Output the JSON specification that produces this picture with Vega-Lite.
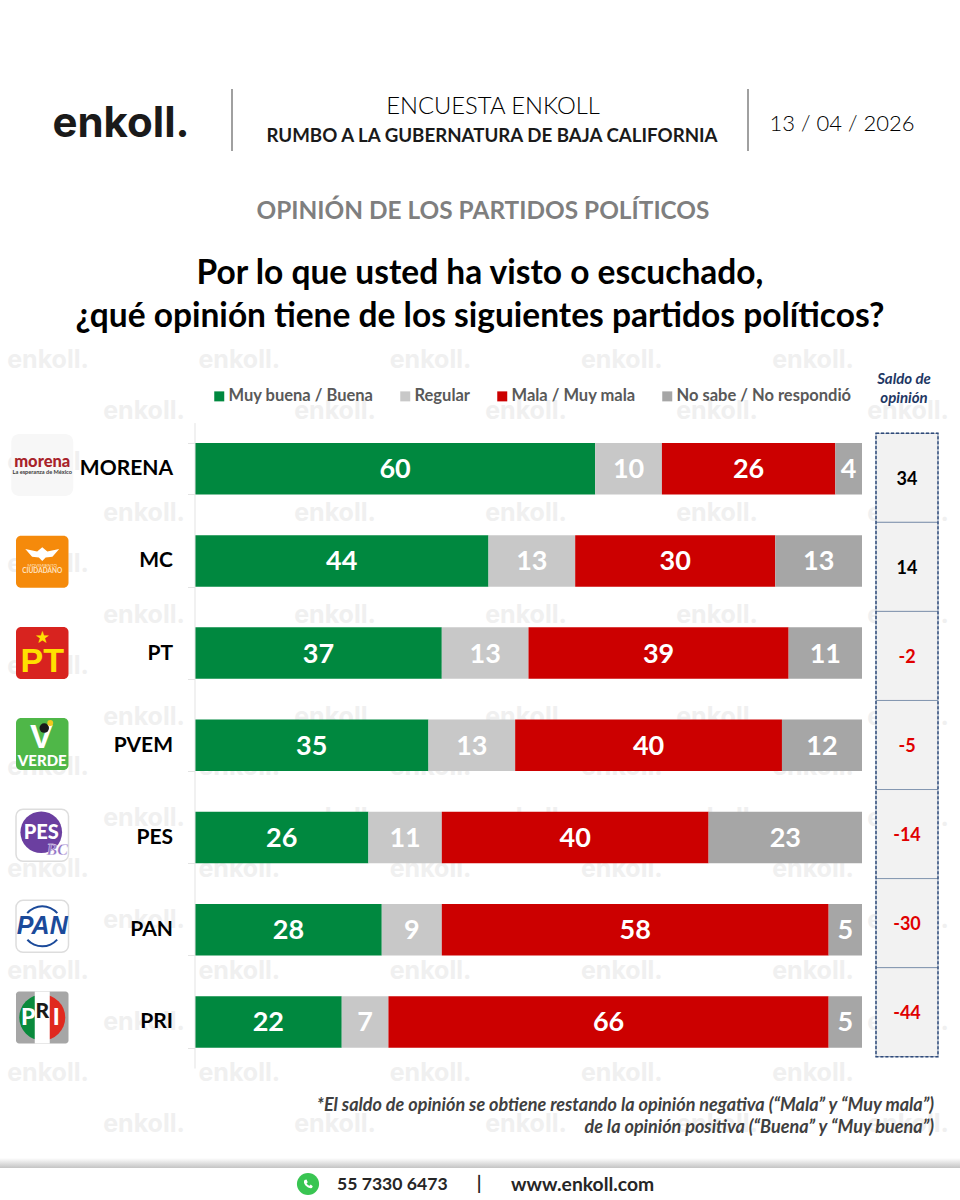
{
  "$schema": "https://vega.github.io/schema/vega-lite/v6.json",
  "width": 960,
  "height": 1200,
  "padding": 0,
  "autosize": {"type": "none"},
  "background": "white",
  "config": {
    "view": {"stroke": null},
    "text": {"font": "Lato"},
    "legend": {"labelFont": "Lato"},
    "scale": {"pointPadding": 0}
  },
  "datasets": {
    "opinion": [
      {"party": "MORENA", "opinion": "Muy buena / Buena", "orden": 1, "value": 60},
      {"party": "MORENA", "opinion": "Regular", "orden": 2, "value": 10},
      {"party": "MORENA", "opinion": "Mala / Muy mala", "orden": 3, "value": 26},
      {"party": "MORENA", "opinion": "No sabe / No respondió", "orden": 4, "value": 4},
      {"party": "MC", "opinion": "Muy buena / Buena", "orden": 1, "value": 44},
      {"party": "MC", "opinion": "Regular", "orden": 2, "value": 13},
      {"party": "MC", "opinion": "Mala / Muy mala", "orden": 3, "value": 30},
      {"party": "MC", "opinion": "No sabe / No respondió", "orden": 4, "value": 13},
      {"party": "PT", "opinion": "Muy buena / Buena", "orden": 1, "value": 37},
      {"party": "PT", "opinion": "Regular", "orden": 2, "value": 13},
      {"party": "PT", "opinion": "Mala / Muy mala", "orden": 3, "value": 39},
      {"party": "PT", "opinion": "No sabe / No respondió", "orden": 4, "value": 11},
      {"party": "PVEM", "opinion": "Muy buena / Buena", "orden": 1, "value": 35},
      {"party": "PVEM", "opinion": "Regular", "orden": 2, "value": 13},
      {"party": "PVEM", "opinion": "Mala / Muy mala", "orden": 3, "value": 40},
      {"party": "PVEM", "opinion": "No sabe / No respondió", "orden": 4, "value": 12},
      {"party": "PES", "opinion": "Muy buena / Buena", "orden": 1, "value": 26},
      {"party": "PES", "opinion": "Regular", "orden": 2, "value": 11},
      {"party": "PES", "opinion": "Mala / Muy mala", "orden": 3, "value": 40},
      {"party": "PES", "opinion": "No sabe / No respondió", "orden": 4, "value": 23},
      {"party": "PAN", "opinion": "Muy buena / Buena", "orden": 1, "value": 28},
      {"party": "PAN", "opinion": "Regular", "orden": 2, "value": 9},
      {"party": "PAN", "opinion": "Mala / Muy mala", "orden": 3, "value": 58},
      {"party": "PAN", "opinion": "No sabe / No respondió", "orden": 4, "value": 5},
      {"party": "PRI", "opinion": "Muy buena / Buena", "orden": 1, "value": 22},
      {"party": "PRI", "opinion": "Regular", "orden": 2, "value": 7},
      {"party": "PRI", "opinion": "Mala / Muy mala", "orden": 3, "value": 66},
      {"party": "PRI", "opinion": "No sabe / No respondió", "orden": 4, "value": 5}
    ],
    "saldo": [
      {"party": "MORENA", "saldo": 34},
      {"party": "MC", "saldo": 14},
      {"party": "PT", "saldo": -2},
      {"party": "PVEM", "saldo": -5},
      {"party": "PES", "saldo": -14},
      {"party": "PAN", "saldo": -30},
      {"party": "PRI", "saldo": -44}
    ],
    "marca": [
      {"col": "c1", "fila": "f1"}, {"col": "c2", "fila": "f1"}, {"col": "c3", "fila": "f1"}, {"col": "c4", "fila": "f1"}, {"col": "c5", "fila": "f1"},
      {"col": "c1", "fila": "f2"}, {"col": "c2", "fila": "f2"}, {"col": "c3", "fila": "f2"}, {"col": "c4", "fila": "f2"}, {"col": "c5", "fila": "f2"},
      {"col": "c1", "fila": "f3"}, {"col": "c2", "fila": "f3"}, {"col": "c3", "fila": "f3"}, {"col": "c4", "fila": "f3"}, {"col": "c5", "fila": "f3"},
      {"col": "c1", "fila": "f4"}, {"col": "c2", "fila": "f4"}, {"col": "c3", "fila": "f4"}, {"col": "c4", "fila": "f4"}, {"col": "c5", "fila": "f4"},
      {"col": "c1", "fila": "f5"}, {"col": "c2", "fila": "f5"}, {"col": "c3", "fila": "f5"}, {"col": "c4", "fila": "f5"}, {"col": "c5", "fila": "f5"},
      {"col": "c1", "fila": "f6"}, {"col": "c2", "fila": "f6"}, {"col": "c3", "fila": "f6"}, {"col": "c4", "fila": "f6"}, {"col": "c5", "fila": "f6"},
      {"col": "c1", "fila": "f7"}, {"col": "c2", "fila": "f7"}, {"col": "c3", "fila": "f7"}, {"col": "c4", "fila": "f7"}, {"col": "c5", "fila": "f7"},
      {"col": "c1", "fila": "f8"}, {"col": "c2", "fila": "f8"}, {"col": "c3", "fila": "f8"}, {"col": "c4", "fila": "f8"}, {"col": "c5", "fila": "f8"}
    ]
  },
  "resolve": {
    "scale": {"x": "independent", "y": "independent", "color": "independent"},
    "axis": {"x": "independent", "y": "independent"}
  },
  "layer": [
    {
      "data": {"name": "marca"},
      "mark": {"type": "text", "text": "enkoll.", "font": "Inter", "fontWeight": "bold", "fontSize": 25, "color": "#f0f0f0"},
      "encoding": {
        "x": {"field": "col", "type": "nominal", "axis": null, "scale": {"type": "point", "range": [48, 813], "padding": 0}},
        "y": {"field": "fila", "type": "nominal", "axis": null, "scale": {"type": "point", "range": [360, 1073], "padding": 0}}
      }
    },
    {
      "data": {"name": "marca"},
      "mark": {"type": "text", "text": "enkoll.", "font": "Inter", "fontWeight": "bold", "fontSize": 25, "color": "#f0f0f0"},
      "encoding": {
        "x": {"field": "col", "type": "nominal", "axis": null, "scale": {"type": "point", "range": [144, 908], "padding": 0}},
        "y": {"field": "fila", "type": "nominal", "axis": null, "scale": {"type": "point", "range": [411, 1124], "padding": 0}}
      }
    },
    {
      "data": {"values": [{"t": "enkoll."}]},
      "mark": {"type": "text", "font": "Inter", "fontWeight": "bold", "fontSize": 42, "color": "#1a1a1a"},
      "encoding": {
        "text": {"field": "t"},
        "x": {"field": "t", "type": "nominal", "axis": null, "scale": {"type": "point", "range": [121, 121]}},
        "y": {"field": "t", "type": "nominal", "axis": null, "scale": {"type": "point", "range": [124, 124]}}
      }
    },
    {
      "data": {"values": [{"s": "a"}, {"s": "b"}]},
      "mark": {"type": "rect", "width": 1.5, "color": "#808080"},
      "encoding": {
        "x": {"field": "s", "type": "nominal", "axis": null, "scale": {"type": "point", "range": [232, 748], "padding": 0}},
        "y": {"datum": "sep", "type": "nominal", "axis": null, "scale": {"type": "band", "range": [89, 151], "paddingInner": 0, "paddingOuter": 0}}
      }
    },
    {
      "data": {"values": [{"t": "ENCUESTA ENKOLL"}]},
      "mark": {"type": "text", "fontSize": 23.8, "fontWeight": 300, "color": "#000000"},
      "encoding": {
        "text": {"field": "t"},
        "x": {"field": "t", "type": "nominal", "axis": null, "scale": {"type": "point", "range": [493, 493]}},
        "y": {"field": "t", "type": "nominal", "axis": null, "scale": {"type": "point", "range": [107, 107]}}
      }
    },
    {
      "data": {"values": [{"t": "RUMBO A LA GUBERNATURA DE BAJA CALIFORNIA"}]},
      "mark": {"type": "text", "fontSize": 18.7, "fontWeight": "bold", "color": "#1a1a1a"},
      "encoding": {
        "text": {"field": "t"},
        "x": {"field": "t", "type": "nominal", "axis": null, "scale": {"type": "point", "range": [492, 492]}},
        "y": {"field": "t", "type": "nominal", "axis": null, "scale": {"type": "point", "range": [136, 136]}}
      }
    },
    {
      "data": {"values": [{"t": "13 / 04 / 2026"}]},
      "mark": {"type": "text", "fontSize": 22, "fontWeight": 300, "color": "#000000"},
      "encoding": {
        "text": {"field": "t"},
        "x": {"field": "t", "type": "nominal", "axis": null, "scale": {"type": "point", "range": [842, 842]}},
        "y": {"field": "t", "type": "nominal", "axis": null, "scale": {"type": "point", "range": [124, 124]}}
      }
    },
    {
      "data": {"values": [{"t": "OPINIÓN DE LOS PARTIDOS POLÍTICOS"}]},
      "mark": {"type": "text", "fontSize": 24.4, "fontWeight": "bold", "color": "#7f7f7f"},
      "encoding": {
        "text": {"field": "t"},
        "x": {"field": "t", "type": "nominal", "axis": null, "scale": {"type": "point", "range": [483, 483]}},
        "y": {"field": "t", "type": "nominal", "axis": null, "scale": {"type": "point", "range": [212, 212]}}
      }
    },
    {
      "data": {"values": [{"t": "Por lo que usted ha visto o escuchado,"}, {"t": "¿qué opinión tiene de los siguientes partidos políticos?"}]},
      "mark": {"type": "text", "fontSize": 33.5, "fontWeight": "bold", "color": "black"},
      "encoding": {
        "text": {"field": "t"},
        "x": {"field": "t", "type": "nominal", "axis": null, "scale": {"type": "point", "range": [480, 480]}},
        "y": {"field": "t", "type": "nominal", "axis": null, "sort": null, "scale": {"type": "point", "range": [274, 317], "padding": 0}}
      }
    },
    {
      "data": {"values": [{"t": "Saldo de"}, {"t": "opinión"}]},
      "mark": {"type": "text", "fontSize": 15, "fontWeight": "bold", "fontStyle": "italic", "color": "#1f3864"},
      "encoding": {
        "text": {"field": "t"},
        "x": {"field": "t", "type": "nominal", "axis": null, "scale": {"type": "point", "range": [904, 904]}},
        "y": {"field": "t", "type": "nominal", "axis": null, "sort": null, "scale": {"type": "point", "range": [379, 398], "padding": 0}}
      }
    },
    {
      "data": {"name": "opinion"},
      "encoding": {
        "y": {
          "field": "party",
          "type": "nominal",
          "title": null,
          "scale": {
            "domain": ["MORENA", "MC", "PT", "PVEM", "PES", "PAN", "PRI"],
            "range": [422.6, 1068],
            "paddingInner": 0.4415,
            "paddingOuter": 0.2207
          },
          "axis": {
            "offset": -194.5,
            "zindex": 1,
            "domainColor": "#e3e3e3",
            "tickColor": "#e3e3e3",
            "tickBand": "extent",
            "tickSize": 7,
            "labelPadding": 15,
            "labelFont": "Lato",
            "labelFontWeight": "bold",
            "labelFontSize": 21,
            "labelColor": "black",
            "encode": {"labels": {"update": {"dx": {"signal": "datum.label == 'MC' ? -5 : datum.label == 'PAN' ? -6 : 0"}}}}
          }
        },
        "x": {
          "field": "value",
          "type": "quantitative",
          "stack": "zero",
          "axis": null,
          "scale": {"domain": [0, 100], "range": [195, 862], "nice": false}
        },
        "order": {"field": "orden"}
      },
      "layer": [
        {
          "mark": {"type": "bar"},
          "encoding": {
            "color": {
              "field": "opinion",
              "type": "nominal",
              "scale": {
                "domain": ["Muy buena / Buena", "Regular", "Mala / Muy mala", "No sabe / No respondió"],
                "range": ["#00883f", "#c8c8c8", "#cc0000", "#a6a6a6"]
              },
              "legend": {
                "title": null,
                "orient": "none",
                "legendX": 211,
                "legendY": 388,
                "direction": "horizontal",
                "columns": 4,
                "columnPadding": 23,
                "symbolType": "square",
                "symbolSize": 100,
                "symbolStrokeWidth": 0,
                "symbolOpacity": 1,
                "labelOffset": 1,
                "labelLimit": 300,
                "labelFontSize": 16.5,
                "labelFontWeight": "bold",
                "labelColor": "#595959"
              }
            }
          }
        },
        {
          "mark": {"type": "text", "fontSize": 27, "fontWeight": "bold", "color": "white", "dy": 1.5},
          "encoding": {
            "x": {"field": "value", "type": "quantitative", "stack": "zero", "bandPosition": 0.5},
            "text": {"field": "value", "type": "quantitative"}
          }
        }
      ]
    },
    {
      "data": {"name": "saldo"},
      "encoding": {
        "x": {"datum": "saldo", "type": "nominal", "axis": null, "scale": {"type": "band", "range": [876, 938], "paddingInner": 0, "paddingOuter": 0}},
        "y": {
          "field": "party",
          "type": "nominal",
          "axis": null,
          "scale": {
            "domain": ["MORENA", "MC", "PT", "PVEM", "PES", "PAN", "PRI"],
            "range": [433.3, 1056.7],
            "paddingInner": 0,
            "paddingOuter": 0
          }
        }
      },
      "layer": [
        {"mark": {"type": "rect", "fill": "#f2f2f2", "stroke": "#8497b0", "strokeWidth": 1}},
        {
          "mark": {"type": "text", "fontSize": 18, "fontWeight": "bold", "dy": 2},
          "encoding": {
            "text": {"field": "saldo", "type": "nominal"},
            "color": {"condition": {"test": "datum.saldo < 0", "value": "#e00000"}, "value": "black"}
          }
        }
      ]
    },
    {
      "data": {"values": [{"caja": "saldo"}]},
      "mark": {"type": "rect", "fill": null, "stroke": "#2f4a7a", "strokeWidth": 1.4, "strokeDash": [3, 2]},
      "encoding": {
        "x": {"field": "caja", "type": "nominal", "axis": null, "scale": {"type": "band", "range": [876, 938], "paddingInner": 0, "paddingOuter": 0}},
        "y": {"field": "caja", "type": "nominal", "axis": null, "scale": {"type": "band", "range": [433.3, 1056.7], "paddingInner": 0, "paddingOuter": 0}}
      }
    },
    {
      "encoding": {
        "x": {"datum": "logo", "type": "nominal", "axis": null, "scale": {"type": "band", "range": [16, 68.5], "paddingInner": 0, "paddingOuter": 0}},
        "y": {
          "field": "party",
          "type": "nominal",
          "axis": null,
          "scale": {
            "domain": ["MORENA", "MC", "PT", "PVEM", "PES", "PAN", "PRI"],
            "range": [425.09, 1063.07],
            "paddingInner": 0.4295,
            "paddingOuter": 0.2147
          }
        }
      },
      "layer": [
        {
          "data": {"values": [{"party": "MORENA"}]},
          "mark": {"type": "rect", "width": 62, "height": 62, "yOffset": -5.7, "cornerRadius": 8, "fill": "#f7f7f7"}
        },
        {
          "data": {"values": [{"party": "MC"}]},
          "mark": {"type": "rect", "cornerRadius": 5, "fill": "#f58a0b"}
        },
        {
          "data": {"values": [{"party": "PT"}]},
          "mark": {"type": "rect", "cornerRadius": 5, "fill": "#d8231f"}
        },
        {
          "data": {"values": [{"party": "PVEM"}]},
          "mark": {"type": "rect", "cornerRadius": 5, "fill": "#4fb748"}
        },
        {
          "data": {"values": [{"party": "PES"}, {"party": "PAN"}]},
          "mark": {"type": "rect", "cornerRadius": 7, "fill": "white", "stroke": "#dddddd", "strokeWidth": 1.5}
        },
        {
          "data": {"values": [{"party": "PRI"}]},
          "mark": {"type": "rect", "cornerRadius": 3, "fill": "#a6a6a6"}
        },
        {
          "data": {"values": [{"party": "MORENA", "t": "morena"}]},
          "mark": {"type": "text", "dy": -9, "fontSize": 16.5, "fontWeight": 900, "color": "#a8232a"},
          "encoding": {"text": {"field": "t"}}
        },
        {
          "data": {"values": [{"party": "MORENA", "t": "La esperanza de México"}]},
          "mark": {"type": "text", "dy": 1, "fontSize": 5.6, "fontWeight": "bold", "color": "#3a3a3a"},
          "encoding": {"text": {"field": "t"}}
        },
        {
          "data": {"values": [{"party": "MC"}]},
          "mark": {"type": "point", "filled": true, "opacity": 1, "color": "white", "size": 1150, "yOffset": -6, "shape": "M-1,-0.4 L-0.3,-0.25 L0,-0.5 L0.3,-0.25 L1,-0.4 L0.6,0.05 L0.2,0.1 L0,0.3 L-0.2,0.1 L-0.6,0.05 Z"}
        },
        {
          "data": {"values": [{"party": "MC", "t": "MOVIMIENTO"}]},
          "mark": {"type": "text", "dy": 4, "fontSize": 4.5, "color": "#ffe3c2"},
          "encoding": {"text": {"field": "t"}}
        },
        {
          "data": {"values": [{"party": "MC", "t": "CIUDADANO"}]},
          "mark": {"type": "text", "dy": 9, "fontSize": 6.5, "fontWeight": "bold", "color": "#ffe3c2"},
          "encoding": {"text": {"field": "t"}}
        },
        {
          "data": {"values": [{"party": "PT", "t": "★"}]},
          "mark": {"type": "text", "dy": -15, "font": "DejaVu Sans", "fontSize": 17, "color": "#ffe000"},
          "encoding": {"text": {"field": "t"}}
        },
        {
          "data": {"values": [{"party": "PT", "t": "PT"}]},
          "mark": {"type": "text", "dy": 9, "font": "Liberation Sans", "fontSize": 34, "fontWeight": "bold", "color": "#ffe000"},
          "encoding": {"text": {"field": "t"}}
        },
        {
          "data": {"values": [{"party": "PVEM", "t": "V"}]},
          "mark": {"type": "text", "dy": -6, "dx": -1, "font": "Liberation Sans", "fontSize": 34, "fontWeight": "bold", "color": "white"},
          "encoding": {"text": {"field": "t"}}
        },
        {
          "data": {"values": [{"party": "PVEM"}]},
          "mark": {"type": "point", "filled": true, "opacity": 1, "color": "#1a1a1a", "size": 90, "yOffset": -16, "xOffset": 2}
        },
        {
          "data": {"values": [{"party": "PVEM"}]},
          "mark": {"type": "point", "filled": true, "opacity": 1, "color": "#f2c81e", "size": 35, "yOffset": -21, "xOffset": 8}
        },
        {
          "data": {"values": [{"party": "PVEM", "t": "VERDE"}]},
          "mark": {"type": "text", "dy": 17, "fontSize": 15, "fontWeight": 900, "color": "white"},
          "encoding": {"text": {"field": "t"}}
        },
        {
          "data": {"values": [{"party": "PES"}]},
          "mark": {"type": "point", "filled": true, "opacity": 1, "color": "#6b3fa0", "size": 1735, "shape": "circle", "xOffset": -1, "yOffset": -3}
        },
        {
          "data": {"values": [{"party": "PES", "t": "PES"}]},
          "mark": {"type": "text", "dy": -2, "dx": -1, "fontSize": 20, "fontWeight": 900, "color": "white"},
          "encoding": {"text": {"field": "t"}}
        },
        {
          "data": {"values": [{"party": "PES", "t": "BC"}]},
          "mark": {"type": "text", "dy": 15, "dx": 15, "font": "Liberation Serif", "fontStyle": "italic", "fontWeight": "bold", "fontSize": 16, "color": "#8f6fc4", "stroke": "white", "strokeWidth": 0.3},
          "encoding": {"text": {"field": "t"}}
        },
        {
          "data": {"values": [{"party": "PAN", "t": "PAN"}]},
          "mark": {"type": "text", "font": "Liberation Sans", "fontStyle": "italic", "fontWeight": "bold", "fontSize": 25, "color": "#1b4a9a"},
          "encoding": {"text": {"field": "t"}}
        },
        {
          "data": {"values": [{"party": "PAN"}]},
          "mark": {"type": "arc", "radius": 21, "radius2": 19, "theta": -0.85, "theta2": 0.85, "color": "#1b4a9a"}
        },
        {
          "data": {"values": [{"party": "PAN"}]},
          "mark": {"type": "arc", "radius": 21, "radius2": 19, "theta": 2.3, "theta2": 3.98, "color": "#1b4a9a"}
        },
        {
          "data": {"values": [{"party": "PRI"}]},
          "mark": {"type": "arc", "radius": 23, "radius2": 0, "theta": -3.1416, "theta2": 0, "color": "#0a8a3c"}
        },
        {
          "data": {"values": [{"party": "PRI"}]},
          "mark": {"type": "arc", "radius": 23, "radius2": 0, "theta": 0, "theta2": 3.1416, "color": "#e0291f"}
        },
        {
          "data": {"values": [{"party": "PRI"}]},
          "mark": {"type": "rect", "width": 15, "fill": "white"}
        },
        {
          "data": {"values": [{"party": "PRI", "t": "P"}]},
          "mark": {"type": "text", "dx": -14, "fontSize": 23, "fontWeight": 900, "color": "white"},
          "encoding": {"text": {"field": "t"}}
        },
        {
          "data": {"values": [{"party": "PRI", "t": "R"}]},
          "mark": {"type": "text", "dy": -6, "fontSize": 21, "fontWeight": 900, "color": "#1a1a1a"},
          "encoding": {"text": {"field": "t"}}
        },
        {
          "data": {"values": [{"party": "PRI", "t": "I"}]},
          "mark": {"type": "text", "dx": 14, "fontSize": 23, "fontWeight": 900, "color": "white"},
          "encoding": {"text": {"field": "t"}}
        }
      ]
    },
    {
      "data": {"values": [
        {"t": "*El saldo de opinión se obtiene restando la opinión negativa (“Mala” y “Muy mala”)"},
        {"t": "de la opinión positiva (“Buena” y “Muy buena”)"}
      ]},
      "mark": {"type": "text", "align": "right", "fontSize": 18, "fontWeight": "bold", "fontStyle": "italic", "color": "#404040"},
      "encoding": {
        "text": {"field": "t"},
        "x": {"field": "t", "type": "nominal", "axis": null, "scale": {"type": "point", "range": [934, 934]}},
        "y": {"field": "t", "type": "nominal", "axis": null, "sort": null, "scale": {"type": "point", "range": [1106, 1128], "padding": 0}}
      }
    },
    {
      "data": {"values": [{"s": "franja"}]},
      "mark": {"type": "rect", "fill": {"x1": 0, "y1": 0, "x2": 0, "y2": 1, "gradient": "linear", "stops": [{"offset": 0, "color": "#ffffff"}, {"offset": 1, "color": "#c4c4c4"}]}},
      "encoding": {
        "x": {"field": "s", "type": "nominal", "axis": null, "scale": {"type": "band", "range": [0, 960], "paddingInner": 0, "paddingOuter": 0}},
        "y": {"field": "s", "type": "nominal", "axis": null, "scale": {"type": "band", "range": [1158, 1168], "paddingInner": 0, "paddingOuter": 0}}
      }
    },
    {
      "data": {"values": [{"s": "wa"}]},
      "encoding": {
        "x": {"field": "s", "type": "nominal", "axis": null, "scale": {"type": "point", "range": [308, 308]}},
        "y": {"field": "s", "type": "nominal", "axis": null, "scale": {"type": "point", "range": [1184, 1184]}}
      },
      "layer": [
        {"mark": {"type": "point", "filled": true, "opacity": 1, "shape": "circle", "size": 490, "color": "#39c552"}},
        {"mark": {"type": "point", "filled": true, "opacity": 1, "size": 100, "color": "white", "shape": "M-0.7,-0.8 L-0.3,-0.9 L-0.05,-0.35 L-0.3,-0.1 Q-0.05,0.3 0.3,0.35 L0.55,0.1 L0.95,0.45 L0.8,0.8 Q0.1,0.95 -0.5,0.3 Q-1,-0.3 -0.7,-0.8 Z"}}
      ]
    },
    {
      "data": {"values": [{"t": "55 7330 6473"}]},
      "mark": {"type": "text", "align": "left", "fontSize": 17.6, "fontWeight": "bold", "color": "#262626"},
      "encoding": {
        "text": {"field": "t"},
        "x": {"field": "t", "type": "nominal", "axis": null, "scale": {"type": "point", "range": [337, 337]}},
        "y": {"datum": "pie", "type": "nominal", "axis": null, "scale": {"type": "point", "range": [1185, 1185]}}
      }
    },
    {
      "data": {"values": [{"t": "www.enkoll.com"}]},
      "mark": {"type": "text", "align": "left", "fontSize": 19.3, "fontWeight": "bold", "color": "#262626"},
      "encoding": {
        "text": {"field": "t"},
        "x": {"field": "t", "type": "nominal", "axis": null, "scale": {"type": "point", "range": [511, 511]}},
        "y": {"datum": "pie", "type": "nominal", "axis": null, "scale": {"type": "point", "range": [1185, 1185]}}
      }
    },
    {
      "data": {"values": [{"t": "|"}]},
      "mark": {"type": "text", "fontSize": 18, "fontWeight": "bold", "color": "#262626"},
      "encoding": {
        "text": {"field": "t"},
        "x": {"field": "t", "type": "nominal", "axis": null, "scale": {"type": "point", "range": [479, 479]}},
        "y": {"datum": "pie", "type": "nominal", "axis": null, "scale": {"type": "point", "range": [1185, 1185]}}
      }
    }
  ]
}
